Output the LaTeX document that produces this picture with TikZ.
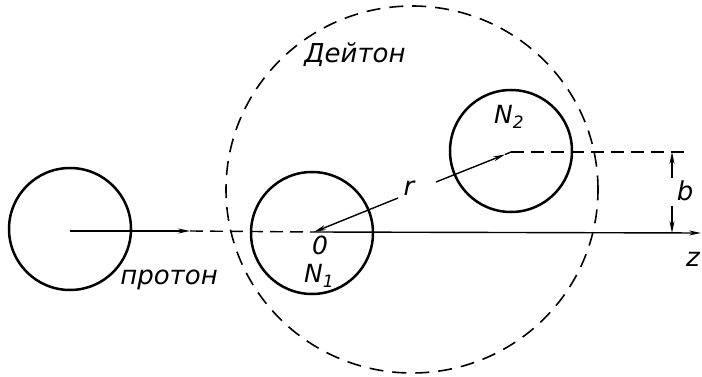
\documentclass[tikz,border=0pt]{standalone}
\usepackage{fontspec}
\setmainfont{DejaVu Sans}
\usetikzlibrary{arrows.meta,calc,shapes.geometric}
\newcommand{\lowsub}[1]{\raisebox{-0.35ex}{\fontsize{17}{19}\selectfont #1}}
\begin{document}
\begin{tikzpicture}[x=1pt,y=-1pt,
  nucl/.style={draw,circle,line width=2.5pt,minimum size=122pt,inner sep=0pt},
  deut/.style={draw,ellipse,line width=1.6pt,dash pattern=on 14pt off 9pt,minimum width=372pt,minimum height=367pt,inner sep=0pt},
  lbl/.style={font=\fontsize{26}{30}\selectfont\itshape,inner sep=0pt},
  slbl/.style={font=\fontsize{25}{29}\selectfont\itshape,inner sep=0pt},
  arr/.style={-{Stealth[length=12pt,width=5pt]}},
  axisline/.style={line width=1.4pt},
  dashline/.style={line width=1.4pt,dash pattern=on 13pt off 7pt}]
\useasboundingbox (0,0) rectangle (702,377);
% centres
\coordinate (pc) at (70,231);
\coordinate (o1) at (314,232);
\coordinate (o2) at (511,152);
% circles
\node[nucl] (P) at (70,229) {};
\node[nucl] (N1) at (312,233) {};
\node[nucl] (N2) at (511,151) {};
\node[deut] (D) at (412,189.5) {};
% beam axis
\coordinate (ptip) at (190,231);
\coordinate (zend) at (701,233);
\draw[axisline,arr] (pc) -- (ptip);
\draw[dashline] (ptip) -- (o1);
\draw[axisline,arr] (o1) -- (zend);
% r vector
\coordinate (rA) at (398,198);
\coordinate (rB) at (436,182);
\coordinate (rM) at (505,154.5);
\draw[axisline,arr] (rA) -- (o1);
\draw[axisline,arr] (rB) -- (rM);
\draw[axisline] (rM) -- (o2);
% impact parameter
\coordinate (bend) at (684,152);
\draw[dashline] (o2) -- (bend);
\coordinate (bt) at (672,152);
\coordinate (bb) at (672,233);
\coordinate (bt1) at (672,178);
\coordinate (bb1) at (672,206);
\draw[axisline,arr] (bt1) -- (bt);
\draw[axisline,arr] (bb1) -- (bb);
% labels
\node[lbl] (ldeut) at (355,55) {Дейтон};
\node[lbl] (lprot) at (169,280) {протон};
\node[slbl] (lN2) at (509,117) {N\lowsub{2}};
\node[slbl] (lN1) at (319,276) {N\lowsub{1}};
\node[slbl] (l0) at (320,245) {0};
\node[lbl] (lr) at (409,188) {r};
\node[lbl] (lb) at (685,191) {b};
\node[lbl] (lz) at (693,259) {z};
\end{tikzpicture}
\end{document}
